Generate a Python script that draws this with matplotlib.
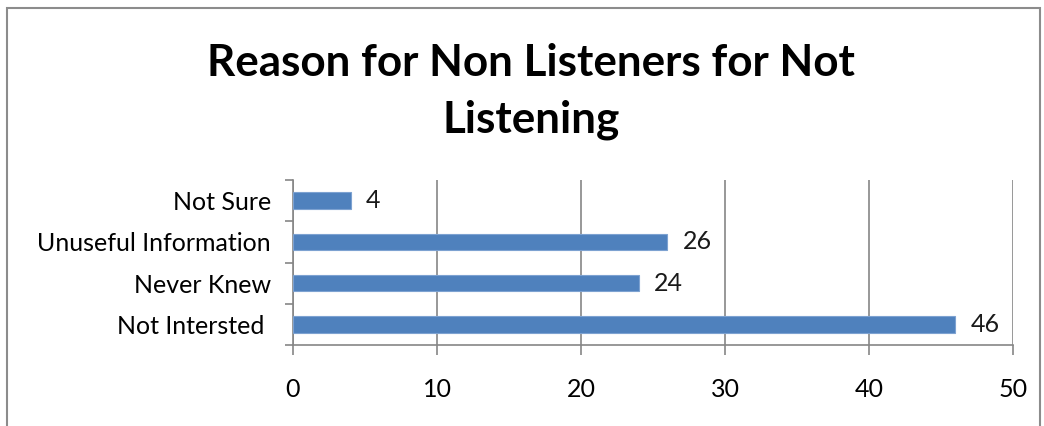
import matplotlib.pyplot as plt
from matplotlib.patches import Rectangle

plt.rcParams['font.family'] = ['Lato', 'DejaVu Sans']

reasons = ["Not Intersted ", "Never Knew", "Unuseful Information", "Not Sure"]
counts = [46, 24, 26, 4]
xticks = [0, 10, 20, 30, 40, 50]

fig = plt.figure(figsize=(10.44, 4.26), dpi=100)
# outer chart frame (bottom edge runs off the canvas)
fig.add_artist(Rectangle((7 / 1044, -0.05), (1040 - 7) / 1044, 1 - 8 / 426 + 0.05,
                         transform=fig.transFigure, fill=False,
                         edgecolor="#8c8c8c", linewidth=1.5))

ax = fig.add_axes([293 / 1044, 1 - 345 / 426, (1013 - 293) / 1044, (345 - 180) / 426])

pos = range(len(reasons))
ax.barh(pos, counts, height=0.4, color="#4f81bd", edgecolor="#7da2d1", linewidth=0.8, zorder=3)
for y, v in zip(pos, counts):
    ax.annotate(str(v), (v, y), xytext=(11, 0), textcoords="offset points",
                va="center", ha="left", fontsize=18, color="#1a1a1a")

ax.set_xlim(0, 50)
ax.set_ylim(-0.5, len(reasons) - 0.5)
ax.set_xticks(xticks)
ax.set_xticklabels([str(t) for t in xticks], fontsize=18)
ax.set_yticks(list(pos))
ax.set_yticklabels(reasons, fontsize=18)
ax.tick_params(axis="y", length=0, pad=16)
ax.tick_params(axis="x", length=7, color="#868686", width=1.2, pad=17)
# category separators on the y axis
ax.set_yticks([i - 0.5 for i in range(len(reasons) + 1)], minor=True)
ax.tick_params(axis="y", which="minor", length=6, color="#868686", width=1.2)

ax.grid(axis="x", color="#868686", linewidth=1.2, zorder=0)
for s in ["top", "right"]:
    ax.spines[s].set_visible(False)
for s in ["left", "bottom"]:
    ax.spines[s].set_color("#868686")
    ax.spines[s].set_linewidth(1.2)

fig.text(531 / 1044, 1 - 92 / 426, "Reason for Non Listeners for Not\nListening",
         ha="center", va="center", fontsize=31.7, fontweight="bold",
         linespacing=1.5, color="black")

fig.savefig("out.png", dpi=100)
